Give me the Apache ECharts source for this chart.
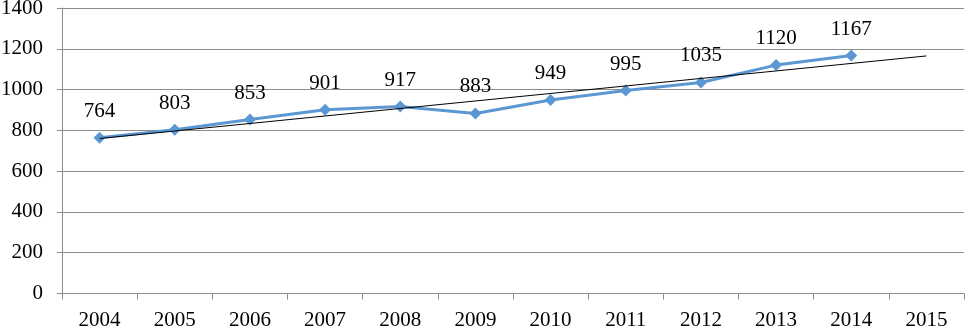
<!DOCTYPE html>
<html>
<head>
<meta charset="utf-8">
<script src="https://cdn.jsdelivr.net/npm/echarts@6/dist/echarts.min.js"></script>
<style>
  html, body { margin: 0; padding: 0; background: #fff; }
  #chart { width: 965px; height: 329px; }
</style>
</head>
<body>
<div id="chart"></div>
<script>
const years = ["2004", "2005", "2006", "2007", "2008", "2009", "2010", "2011", "2012", "2013", "2014", "2015"]
const values = [764, 803, 853, 901, 917, 883, 949, 995, 1035, 1120, 1167]
// linear trend line, read at its two ends (2004 and 2015)
const trendEnds = [760, 1165]

const trend = years.map((_, i) => (i === 0 ? trendEnds[0] : i === years.length - 1 ? trendEnds[1] : null))

const font = "'Liberation Serif', 'Times New Roman', serif"
const chart = echarts.init(document.getElementById("chart"))

chart.setOption({
  animation: false,
  grid: { left: 62, right: 1, top: 8, bottom: 35.5, outerBoundsMode: "none", containLabel: false },
  xAxis: {
    type: "category",
    data: years,
    boundaryGap: true,
    axisLine: { lineStyle: { color: "#8c8c8c", width: 1 } },
    axisTick: { show: true, length: 6, lineStyle: { color: "#8c8c8c" } },
    axisLabel: { color: "#000", fontFamily: font, fontSize: 21, margin: 16 },
  },
  yAxis: {
    type: "value",
    min: 0,
    max: 1400,
    interval: 200,
    axisLine: { show: true, lineStyle: { color: "#8c8c8c", width: 1 } },
    axisTick: { show: true, length: 5, lineStyle: { color: "#8c8c8c" } },
    axisLabel: { color: "#000", fontFamily: font, fontSize: 21, margin: 19, formatter: (v) => String(v) },
    splitLine: { lineStyle: { color: "#8c8c8c", width: 1 } },
  },
  series: [
    {
      type: "line",
      data: trend,
      connectNulls: true,
      symbol: "none",
      lineStyle: { color: "#000", width: 1 },
      z: 3,
    },
    {
      type: "line",
      data: values,
      symbol: "diamond",
      symbolSize: 12,
      lineStyle: { color: "#5b97d3", width: 3 },
      itemStyle: { color: "#5b97d3" },
      label: {
        show: true,
        position: "top",
        distance: 10,
        color: "#000",
        fontFamily: font,
        fontSize: 21,
      },
      z: 2,
    },
  ],
})
</script>
</body>
</html>
